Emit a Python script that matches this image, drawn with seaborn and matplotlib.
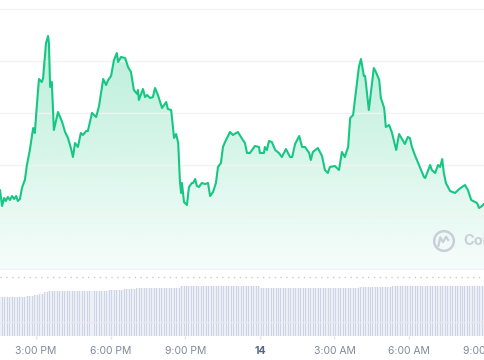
import numpy as np
import pandas as pd
import matplotlib
matplotlib.use("Agg")
import matplotlib.pyplot as plt
from matplotlib.colors import to_rgb
from matplotlib.path import Path
import seaborn as sns

# ---------------- data ----------------
# time in minutes since 12:00 PM on the 13th
price_time = [93, 98, 103, 107, 112, 117, 122, 127, 132, 136, 141, 146, 151, 153, 158, 165, 173, 177,
              182, 187, 194, 197, 204, 209, 211, 214, 218, 223, 233, 243, 250, 257, 264, 269, 274,
              281, 288, 293, 301, 305, 315, 325, 332, 342, 349, 354, 361, 368, 375, 378, 385, 395,
              402, 409, 416, 424, 426, 428, 438, 443, 448, 455, 462, 467, 474, 484, 494, 498, 506,
              513, 518, 523, 527, 530, 532, 537, 544, 549, 556, 559, 564, 568, 573, 580, 588, 595,
              600, 607, 614, 619, 626, 631, 636, 648, 655, 667, 679, 684, 689, 696, 708, 718, 720,
              730, 732, 737, 742, 749, 757, 766, 773, 783, 793, 798, 805, 815, 822, 829, 839, 843,
              848, 860, 870, 877, 884, 889, 901, 911, 918, 925, 933, 938, 945, 950, 959, 964, 971,
              974, 983, 995, 1000, 1008, 1012, 1020, 1024, 1032, 1039, 1049, 1056, 1063, 1070, 1077,
              1082, 1087, 1094, 1104, 1116, 1119, 1131, 1135, 1143, 1150, 1155, 1160, 1164, 1169,
              1179, 1191, 1201, 1215, 1222, 1230, 1239, 1244, 1249, 1256, 1263]
price = [80, 64, 72, 69, 73, 70, 74, 71, 74, 69, 71, 82, 88, 90, 105, 120, 142, 137,
         165, 191, 188, 192, 227, 234, 227, 183, 188, 140, 158, 148, 138, 132, 122, 113, 127,
         123, 137, 135, 139, 139, 157, 153, 164, 191, 185, 190, 194, 210, 217, 208, 213, 212,
         203, 198, 180, 176, 180, 170, 181, 173, 175, 172, 173, 182, 175, 162, 168, 161, 160,
         132, 136, 127, 90, 77, 87, 68, 65, 83, 87, 87, 91, 84, 83, 87, 86, 87,
         74, 78, 87, 103, 107, 123, 128, 138, 135, 138, 130, 127, 117, 117, 124, 123, 117,
         117, 123, 120, 129, 128, 120, 117, 113, 121, 113, 113, 126, 134, 123, 123, 117, 110,
         118, 122, 114, 100, 97, 103, 104, 100, 118, 113, 123, 152, 155, 172, 203, 211, 194,
         194, 160, 202, 198, 190, 172, 162, 143, 145, 137, 120, 136, 131, 126, 133,
         132, 123, 115, 105, 93, 92, 105, 100, 97, 105, 103, 111, 97, 87,
         79, 77, 81, 85, 80, 70, 68, 67, 62, 64, 67]

volume = [39, 39, 39, 39, 39, 39, 39, 39, 39, 39, 39, 40, 40, 40, 41, 41, 42, 42, 44, 44,
          45, 45, 45, 45, 45, 45, 45, 45, 45, 45, 45, 45, 45, 45, 45, 45, 45, 45, 45, 45,
          45, 45, 45, 45, 46, 46, 46, 46, 46, 46, 47, 47, 47, 47, 47, 48, 48, 48, 48, 48,
          48, 48, 48, 48, 48, 48, 48, 48, 48, 48, 48, 48, 48, 50, 50, 50, 50, 50, 50, 50,
          50, 50, 50, 50, 50, 50, 50, 50, 50, 50, 50, 50, 50, 50, 50, 50, 50, 50, 50, 50,
          50, 50, 50, 50, 50, 48, 48, 48, 48, 48, 48, 48, 48, 48, 48, 48, 48, 48, 48, 48,
          48, 48, 48, 48, 48, 48, 48, 48, 48, 48, 48, 48, 48, 48, 48, 48, 48, 48, 48, 48,
          48, 48, 48, 48, 48, 49, 49, 49, 49, 49, 49, 49, 49, 49, 49, 49, 49, 49, 50, 50,
          50, 50, 50, 50, 50, 50, 50, 50, 50, 50, 50, 50, 50, 50, 50, 50, 50, 50, 50, 50,
          50, 50, 50, 50, 50, 50, 50, 50, 50, 50, 50, 50, 50, 50, 50, 50]
volume_start = 93     # minutes
volume_step = 6       # minutes per bar

tick_minutes = [180, 360, 540, 720, 900, 1080, 1260]
tick_labels = ["3:00 PM", "6:00 PM", "9:00 PM", "14", "3:00 AM", "6:00 AM", "9:00 AM"]
grid_levels = [53, 105, 157, 209, 261]

# ---------------- style ----------------
sns.set_theme(style="white")
plt.rcParams["font.family"] = ["Inter", "DejaVu Sans"]

GREEN = "#16c784"
XMIN, XMAX = 93, 1263.3

fig = plt.figure(figsize=(4.85, 3.6), dpi=100)
ax = fig.add_axes([0, 0.25, 1, 0.75])
axv = fig.add_axes([0, 24 / 360, 1, 66 / 360])

df = pd.DataFrame({"t": price_time, "p": price})

# gradient fill under the line
poly = ax.fill_between(df["t"], df["p"], 0, color="none", lw=0)
alpha = np.linspace(0.34, 0.04, 256)
rgba = np.zeros((256, 1, 4))
rgba[..., :3] = to_rgb(GREEN)
rgba[:, 0, 3] = alpha
im = ax.imshow(rgba, extent=[XMIN, XMAX, 0, 270], aspect="auto", origin="upper", zorder=1)
im.set_clip_path(poly.get_paths()[0], transform=ax.transData)

sns.lineplot(data=df, x="t", y="p", ax=ax, color=GREEN, lw=1.5, zorder=3)

ax.set_xlim(XMIN, XMAX)
ax.set_ylim(0, 270)
ax.set_yticks(grid_levels)
ax.set_xticks([])
ax.set_axisbelow(False)
ax.grid(axis="y", color="#f1f2f4", lw=1.0)
ax.grid(axis="x", visible=False)
ax.tick_params(left=False, labelleft=False, bottom=False, labelbottom=False)
ax.set_xlabel("")
ax.set_ylabel("")
for s in ax.spines.values():
    s.set_visible(False)
ax.axhline(0.6, color="#eef0f3", lw=1.0, zorder=2)
ax.set_facecolor("none")

# volume bars
vol_time = volume_start + volume_step * np.arange(len(volume))
axv.bar(vol_time, volume, width=volume_step, color="#edf0f6", lw=0, zorder=1)
axv.bar(vol_time, volume, width=2.4, color="#cdd4e4", lw=0, zorder=2)
axv.axhline(14, color="#e6e9f0", lw=1.0, zorder=3)
axv.axhline(59, color="#c5cad3", lw=1.0, ls=(0, (1, 3.2)), zorder=3)
axv.set_xlim(XMIN, XMAX)
axv.set_ylim(0, 66)
axv.set_yticks([])
axv.set_xticks(tick_minutes)
axv.set_xticklabels(tick_labels)
axv.tick_params(axis="x", bottom=True, length=2.5, width=1, color="#dfe2e8",
                labelcolor="#808a9d", labelsize=7.5, pad=5)
for lbl in axv.get_xticklabels():
    if lbl.get_text() == "14":
        lbl.set_fontweight("bold")
        lbl.set_color("#58667e")
for s in axv.spines.values():
    s.set_visible(False)
axv.set_facecolor("none")
axv.grid(False)

# watermark
wm_color = "#c9ced9"
logo_x = XMIN + (XMAX - XMIN) * 444 / 485
ax.scatter([logo_x], [29], s=200, facecolors="none", edgecolors=wm_color, linewidths=1.8, zorder=4)
wave = Path([(-0.55, -0.55), (-0.35, 0.35), (-0.1, -0.1), (0.2, 0.4), (0.45, 0.0)],
            [Path.MOVETO, Path.LINETO, Path.LINETO, Path.LINETO, Path.LINETO])
ax.scatter([logo_x], [29], s=70, marker=wave, facecolors="none", edgecolors=wm_color,
           linewidths=1.6, zorder=4)
fig.text(463 / 485, (360 - 241) / 360, "CoinGecko", ha="left", va="center",
         color=wm_color, fontsize=10.5, fontweight="bold", zorder=5)

fig.savefig("out.png", dpi=100, facecolor="white")
